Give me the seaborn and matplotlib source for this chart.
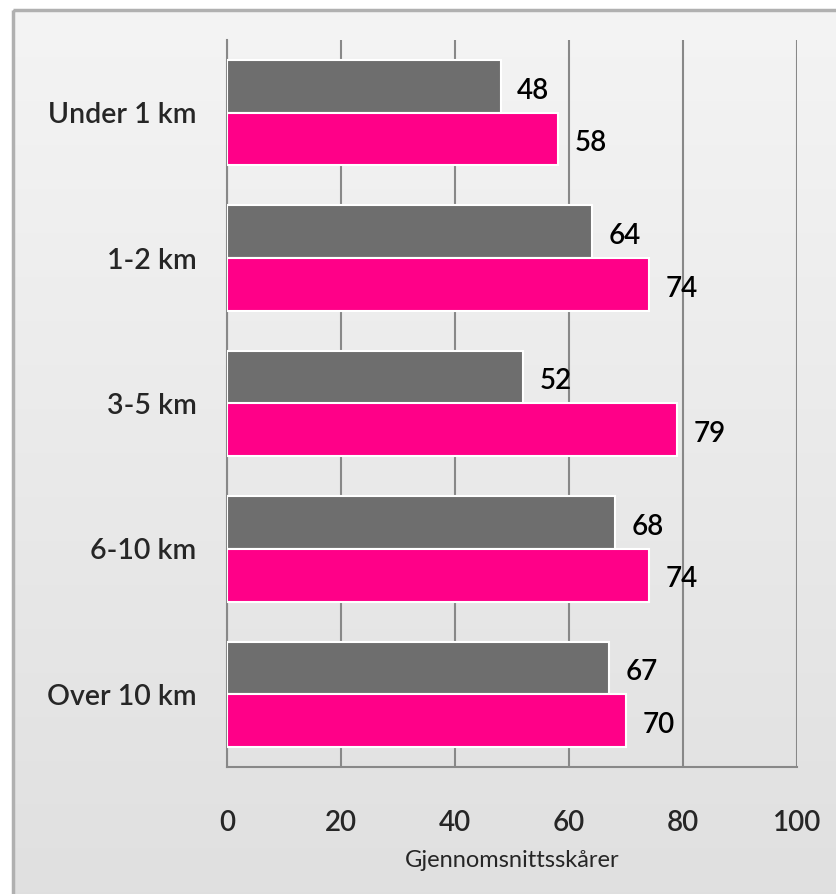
import numpy as np
import pandas as pd
import matplotlib
matplotlib.use("Agg")
import matplotlib.pyplot as plt
from matplotlib.patches import Rectangle
import seaborn as sns

categories = ["Under 1 km", "1-2 km", "3-5 km", "6-10 km", "Over 10 km"]
series_names = ["Serie 1", "Serie 2"]
serie1 = [48, 64, 52, 68, 67]
serie2 = [58, 74, 79, 74, 70]
colors = ["#6e6e6e", "#ff0088"]
x_ticks = [0, 20, 40, 60, 80, 100]

df = pd.DataFrame({
    "avstand": categories * 2,
    "serie": [series_names[0]] * len(categories) + [series_names[1]] * len(categories),
    "verdi": serie1 + serie2,
})

sns.set_style("white")
plt.rcParams["font.family"] = ["Lato", "DejaVu Sans"]

W, H = 837, 894
fig = plt.figure(figsize=(W / 100, H / 100), dpi=100)
fig.patch.set_facecolor("white")

# gradient background inside the frame
bg = fig.add_axes([0, 0, 1, 1], zorder=-10)
grad = np.linspace(0, 1, 256).reshape(-1, 1)
top = np.array([0.957, 0.957, 0.957])
bot = np.array([0.878, 0.878, 0.878])
img = top + (bot - top) * grad[..., None]
bg.imshow(img, extent=[13, W + 5, H + 5, 10], aspect="auto", interpolation="bilinear")
bg.add_patch(Rectangle((13, 10), W, H, fill=False, edgecolor="#b0b0b0", linewidth=2.5))
bg.set_xlim(0, W)
bg.set_ylim(H, 0)
bg.axis("off")

ax = fig.add_axes([227 / W, 1 - 767 / H, 570 / W, 727 / H])
ax.patch.set_alpha(0)

sns.barplot(data=df, y="avstand", x="verdi", hue="serie", orient="h",
            palette=colors, saturation=1, width=0.725, edgecolor="white",
            linewidth=1.5, legend=False, ax=ax, zorder=3)

for cont in ax.containers:
    labels = ax.bar_label(cont, fmt="%d", padding=11, fontsize=20, color="black",
                          fontweight="semibold")
    # nudge labels slightly down, as in the original
    for t in labels:
        t.xyann = (12, -3)

ax.set_xlim(0, 100)
ax.set_ylim(len(categories) - 0.5, -0.5)
ax.set_xticks(x_ticks)
ax.set_xticklabels([str(t) for t in x_ticks], fontsize=20, fontweight="semibold")
ax.tick_params(axis="x", direction="out", length=8, width=1.5, color="#888888", pad=23)
ax.set_yticks(range(len(categories)))
ax.set_yticklabels(categories, fontsize=20.5, fontweight="semibold")
ax.tick_params(axis="y", which="major", length=0, pad=22)
ax.set_yticks(np.arange(-0.5, len(categories), 1), minor=True)
ax.tick_params(axis="y", which="minor", direction="out", length=9, width=1.5, color="#888888")
ax.grid(axis="x", color="#888888", linewidth=1.5, zorder=0)
ax.set_axisbelow(True)

for s in ["top", "right"]:
    ax.spines[s].set_visible(False)
for s in ["left", "bottom"]:
    ax.spines[s].set_color("#888888")
    ax.spines[s].set_linewidth(1.5)

ax.set_ylabel("")
ax.set_xlabel("Gjennomsnittsskårer", fontsize=17, labelpad=10)

fig.savefig("out.png", dpi=100)
